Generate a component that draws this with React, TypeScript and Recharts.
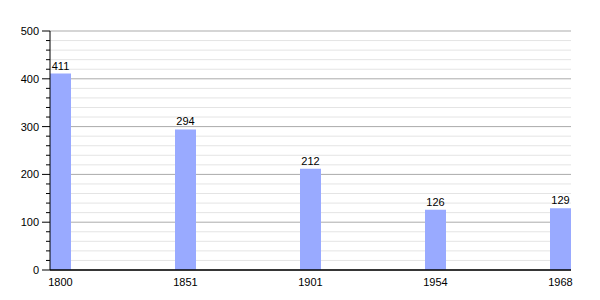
import { BarChart, Bar, XAxis, YAxis, CartesianGrid, LabelList } from "recharts";

// Population by census year
const years = ["1800", "1851", "1901", "1954", "1968"];
const population = [411, 294, 212, 126, 129];
const minorTicks = [0, 20, 40, 60, 80, 100, 120, 140, 160, 180, 200, 220, 240, 260, 280, 300, 320, 340, 360, 380, 400, 420, 440, 460, 480, 500];

const data = years.map((year, i) => ({ idx: i, year, value: population[i] }));

const FONT = "'Liberation Sans', Arial, sans-serif";
const BAR = "#99aaff";

// y ticks: long tick + label on hundreds, short tick otherwise
function YTick(props: any) {
  const { x, y, payload } = props;
  const axisX = x + 10;
  const major = payload.value % 100 === 0;
  return (
    <g>
      <line x1={major ? axisX - 8 : axisX - 4} x2={axisX} y1={y} y2={y} stroke="#000" />
      {major && (
        <text x={axisX - 11} y={y} dy={4} textAnchor="end" fontSize={11} fontFamily={FONT} fill="#000">
          {payload.value}
        </text>
      )}
    </g>
  );
}

// grid: darker line every 100, light every 20
function GridLine(p: any) {
  const v = minorTicks[p.index];
  const major = v !== undefined && v % 100 === 0;
  return (
    <line key={p.key} x1={p.x1} x2={p.x2} y1={p.y1} y2={p.y2} stroke={major ? "#ababab" : "#e4e4e4"} strokeWidth={1} />
  );
}

export default function App() {
  return (
    <div style={{ position: "absolute", left: 0, top: 0, width: 600, height: 300, background: "#fff" }}>
      <BarChart width={600} height={300} data={data} margin={{ top: 31, right: 29, bottom: 10, left: 0 }}>
        <CartesianGrid vertical={false} horizontal={GridLine} />
        <XAxis
          type="number"
          dataKey="idx"
          domain={[-0.084, 4.084]}
          ticks={[0, 1, 2, 3, 4]}
          interval={0}
          allowDataOverflow
          tickFormatter={(v) => years[v]}
          tickLine={false}
          axisLine={{ stroke: "#000", strokeWidth: 1.5 }}
          height={20}
          tick={{ fill: "#000", fontSize: 11, fontFamily: FONT }}
          tickMargin={2}
        />
        <YAxis
          width={50}
          domain={[0, 500]}
          ticks={minorTicks}
          interval={0}
          tickSize={8}
          tickMargin={2}
          tickLine={false}
          axisLine={{ stroke: "#000" }}
          tick={<YTick />}
        />
        <Bar dataKey="value" fill={BAR} barSize={21} isAnimationActive={false}>
          <LabelList dataKey="value" position="top" offset={4} fill="#000" fontSize={11} fontFamily={FONT} />
        </Bar>
      </BarChart>
    </div>
  );
}
